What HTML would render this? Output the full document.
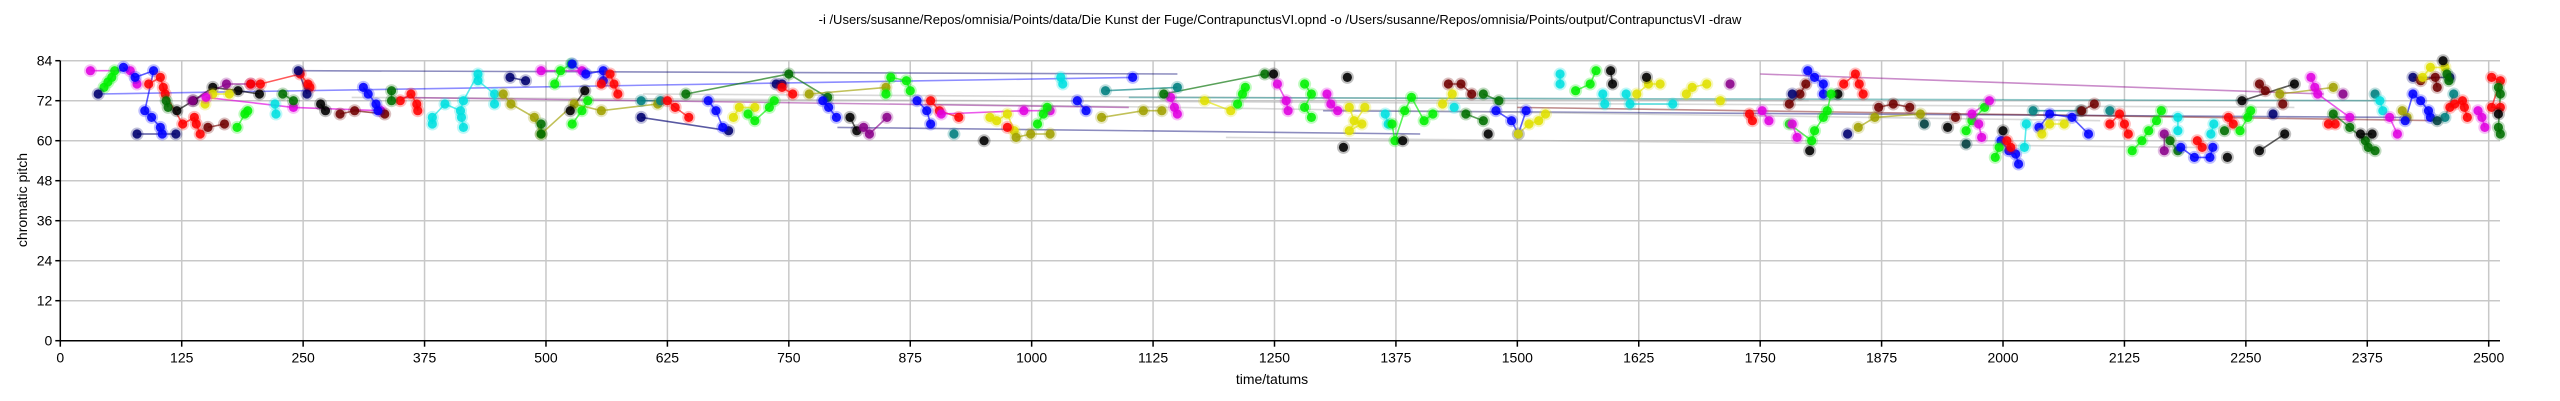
<!DOCTYPE html>
<html><head><meta charset="utf-8">
<style>
html,body{margin:0;padding:0;background:#fff;}
svg{display:block;font-family:"Liberation Sans",Arial,sans-serif;}
</style></head>
<body>
<svg id="chart" width="2560" height="401" viewBox="0 0 2560 401" xmlns="http://www.w3.org/2000/svg">
<text x="1280" y="24" text-anchor="middle" font-size="13">-i /Users/susanne/Repos/omnisia/Points/data/Die Kunst der Fuge/ContrapunctusVI.opnd -o /Users/susanne/Repos/omnisia/Points/output/ContrapunctusVI -draw</text>
<g id="grid"></g>
<g id="lines"></g>
<g id="dots"></g>
<g id="axes"></g>
<text transform="translate(27,200) rotate(-90)" text-anchor="middle" font-size="14">chromatic pitch</text>
<text x="1272" y="384" text-anchor="middle" font-size="14">time/tatums</text>
</svg>
<script>
const xTicks = [0,125,250,375,500,625,750,875,1000,1125,1250,1375,1500,1625,1750,1875,2000,2125,2250,2375,2500];
const yTicks = [0,12,24,36,48,60,72,84];
const palette = {m:"#e000e0",p:"#8a008a",g:"#00f000",d:"#006e00",n:"#000070",b:"#0000ff",r:"#ff0000",o:"#700000",k:"#000000",y:"#e0e000",v:"#a0a000",c:"#00e0e0",t:"#008080",e:"#004040",a:"#aaaaaa"};
const longLines = [
 ["b",[[39,74],[1104,79]]],["n",[[245,81],[1150,80]]],["a",[[300,73],[2300,70]]],["a",[[600,74],[1800,72]]],
 ["p",[[1750,80],[2330,74]]],["n",[[1300,69],[2410,67]]],["o",[[1500,70],[2450,66]]],["a",[[900,71],[2100,66]]],
 ["t",[[1100,73],[2390,72]]],["p",[[350,73],[1100,70]]],["n",[[800,64],[1400,62]]],["a",[[1200,61],[2200,58]]]
];
const seriesPoints = [
 ["m",[[31,81],[72,81],[79,77]]],["g",[[45,76],[49,77.6],[53,79],[56,81]]],["n",[[39,74]]],
 ["b",[[65,82],[77,79],[96,81],[87,69],[94,67],[103,64],[105,62]]],
 ["r",[[91,77],[103,79],[106,76],[108,74],[126,65],[138,67],[140,65],[144,62]]],
 ["n",[[79,62],[119,62]]],["d",[[109,72],[111,70]]],["k",[[120,69],[137,72],[157,76],[183,75],[205,74]]],
 ["o",[[152,64],[169,65]]],["y",[[149,71],[157,74],[174,74]]],["p",[[136,72],[171,77],[196,77]]],
 ["g",[[182,64],[190,68],[193,69]]],["r",[[196,77],[206,77],[247,80],[255,77],[257,76]]],
 ["c",[[221,71],[222,68]]],["n",[[245,81],[254,74]]],["m",[[150,73],[240,70],[330,69]]],["d",[[229,74],[240,72]]],
 ["k",[[268,71],[273,69]]],["o",[[288,68],[303,69],[334,68]]],["b",[[312,76],[317,74],[325,71],[327,69]]],
 ["r",[[350,72],[361,74],[367,71],[368,69]]],
 ["c",[[383,65],[383,67],[396,71],[412,69],[415,72],[430,80],[430,78],[447,74],[447,71]]],["c",[[413,67],[415,64]]],
 ["d",[[341,75],[341,72]]],["n",[[463,79],[479,78]]],["v",[[456,74],[464,71],[488,67],[495,62],[529,71],[557,69],[615,71]]],
 ["d",[[495,65],[495,62]]],["m",[[495,81],[537,81]]],["g",[[509,77],[515,81],[526,83]]],
 ["b",[[527,83],[541,80],[559,81],[559,78]]],["r",[[557,77],[566,80],[570,77],[574,74]]],
 ["g",[[527,65],[537,69],[543,72]]],["k",[[525,69],[540,75]]],["t",[[598,72],[618,72]]],
 ["r",[[625,72],[633,70],[647,67]]],["d",[[644,74],[750,80],[790,73]]],["n",[[598,67],[688,63]]],
 ["b",[[667,72],[675,69],[682,64]]],["y",[[693,67],[699,70],[715,70]]],["g",[[708,68],[715,66],[730,70],[735,72]]],
 ["n",[[737,77],[743,77]]],["r",[[743,76],[754,74]]],["v",[[771,74],[850,76]]],["b",[[785,72],[791,70],[799,67]]],
 ["g",[[850,74],[855,79],[871,78],[875,75]]],["k",[[813,67],[820,63]]],["p",[[827,64],[833,62],[851,67]]],
 ["b",[[882,72],[892,69],[896,65]]],["r",[[896,72],[905,69],[925,67]]],["t",[[920,62]]],
 ["m",[[907,68],[992,69],[1019,69]]],["y",[[957,67],[964,66],[975,68],[982,63]]],["r",[[975,64]]],["k",[[951,60]]],
 ["v",[[984,61],[999,62],[1019,62]]],["g",[[1006,65],[1012,68],[1016,70]]],["c",[[1030,79],[1032,77]]],
 ["b",[[1104,79]]],["t",[[1076,75],[1150,76]]],["b",[[1047,72],[1056,69]]],["v",[[1072,67],[1115,69],[1134,69]]],
 ["m",[[1143,73],[1147,70],[1150,68]]],["y",[[1178,72],[1205,69]]],["g",[[1212,71],[1217,74],[1220,76]]],
 ["d",[[1136,74],[1240,80]]],["k",[[1249,80]]],["m",[[1253,77],[1262,72],[1264,69]]],
 ["g",[[1281,77],[1288,74],[1281,70],[1288,67]]],["k",[[1325,79]]],["m",[[1304,74],[1308,71],[1315,69]]],
 ["y",[[1327,70],[1332,66],[1340,65],[1327,63],[1343,70]]],["k",[[1321,58]]],["c",[[1364,68],[1367,65]]],
 ["g",[[1371,65],[1374,60],[1384,69],[1391,73],[1404,66],[1413,68]]],["k",[[1382,60]]],
 ["o",[[1429,77],[1442,77],[1453,74]]],["y",[[1423,71],[1433,74]]],["c",[[1435,70]]],["d",[[1465,74],[1481,72]]],
 ["b",[[1478,69],[1494,66],[1501,62],[1509,69]]],["k",[[1470,62]]],["d",[[1447,68],[1465,66]]],
 ["y",[[1501,62],[1512,65],[1522,66],[1529,68]]],["c",[[1544,80],[1544,77]]],["g",[[1560,75],[1575,77],[1581,81]]],
 ["k",[[1596,81],[1598,77]]],["c",[[1588,74],[1590,71]]],["c",[[1612,74],[1616,71],[1660,71]]],
 ["y",[[1623,74],[1635,77],[1647,77]]],["k",[[1633,79]]],["y",[[1674,74],[1680,76],[1695,77]]],
 ["p",[[1719,77]]],["y",[[1709,72]]],["r",[[1739,68],[1742,66]]],["m",[[1752,69],[1759,66]]],
 ["o",[[1780,71],[1791,74],[1797,77]]],["n",[[1783,74]]],["b",[[1799,81],[1806,79],[1815,77],[1815,74]]],
 ["k",[[1830,74]]],["r",[[1836,77],[1848,80],[1852,77],[1856,74]]],
 ["g",[[1780,65],[1803,60],[1806,63],[1815,67],[1819,69],[1823,74]]],["m",[[1783,65],[1788,61]]],["k",[[1801,57]]],
 ["n",[[1840,62]]],["v",[[1851,64],[1868,67],[1915,68]]],["o",[[1872,70],[1887,71],[1904,70]]],["e",[[1919,65]]],
 ["k",[[1943,64]]],["o",[[1951,67]]],["g",[[1962,63],[1968,66],[1981,70]]],["m",[[1986,72],[1968,68],[1975,65],[1978,61]]],
 ["e",[[1962,59]]],["b",[[1998,60],[2006,57],[2013,56],[2016,53]]],["g",[[1992,55],[1996,58]]],["r",[[2004,60],[2008,58]]],
 ["k",[[2000,63]]],["c",[[2022,58],[2024,65]]],["t",[[2031,69],[2080,69]]],["b",[[2037,64],[2048,68],[2071,67],[2088,62]]],
 ["y",[[2040,62],[2048,65],[2063,65]]],["o",[[2081,69],[2094,71]]],["t",[[2110,69]]],
 ["r",[[2110,65],[2120,68],[2125,65],[2129,62]]],["g",[[2133,57],[2143,60],[2150,63],[2158,66],[2163,69]]],
 ["p",[[2166,57],[2166,62]]],["d",[[2172,60],[2180,57]]],["c",[[2180,67],[2180,63]]],
 ["b",[[2183,58],[2197,55],[2213,55],[2216,58]]],["r",[[2200,60],[2205,58]]],["k",[[2231,55]]],
 ["c",[[2214,62],[2217,65]]],["d",[[2228,63]]],["k",[[2264,57],[2290,62]]],["r",[[2232,67],[2237,65]]],
 ["g",[[2244,63],[2252,67],[2255,69]]],["o",[[2264,77],[2270,75]]],["v",[[2285,74],[2340,76]]],
 ["k",[[2246,72],[2300,77]]],["m",[[2317,79],[2321,76],[2324,74],[2357,67]]],["o",[[2288,71]]],["n",[[2278,68]]],
 ["r",[[2335,65],[2342,65]]],["p",[[2350,74]]],["d",[[2340,68],[2357,64],[2373,60],[2376,58],[2383,57]]],
 ["k",[[2368,62],[2380,62]]],["t",[[2383,74]]],["c",[[2388,72],[2391,69]]],["m",[[2398,67],[2406,62]]],
 ["v",[[2411,69],[2416,67]]],["b",[[2414,66],[2422,74],[2430,72],[2438,69],[2440,67]]],["n",[[2422,79],[2460,79]]],
 ["o",[[2430,78],[2445,79],[2447,76]]],["y",[[2432,79],[2440,82],[2455,82]]],["k",[[2453,84]]],
 ["d",[[2457,80],[2459,78]]],["t",[[2464,74],[2455,67]]],["e",[[2447,66]]],
 ["r",[[2460,70],[2465,71],[2473,72],[2475,70],[2478,67]]],["m",[[2489,69],[2493,67],[2496,64]]],
 ["r",[[2503,79],[2512,78],[2503,70],[2512,70]]],["d",[[2510,76],[2512,74],[2510,64],[2512,62]]],["k",[[2510,68]]]
];
const X0=60.3, XS=0.97136, Y0=340.7, YS=3.3333;
function xScale(t){return X0+t*XS;}
function yScale(p){return Y0-p*YS;}
const NS="http://www.w3.org/2000/svg";
function mk(tag,attrs,parent){const e=document.createElementNS(NS,tag);for(const k in attrs)e.setAttribute(k,attrs[k]);parent.appendChild(e);return e;}
const grid=document.getElementById('grid'),axes=document.getElementById('axes'),lines=document.getElementById('lines'),dots=document.getElementById('dots');
const xEnd=2500, yTop=yScale(84);
xTicks.forEach(function(t){
  const x=xScale(t);
  if(t>0){const gl=mk('line',{x1:x,x2:x,y1:yTop,y2:Y0,stroke:'#c8c8c8','stroke-width':1.5},grid);
  
  }
  const tk=mk('line',{x1:x,x2:x,y1:Y0,y2:Y0+6,stroke:'#000','stroke-width':1.5},axes);
  
  
  const lb=mk('text',{x:x,y:Y0+22,'text-anchor':'middle','font-size':14},axes);lb.textContent=t;
  
  
});
yTicks.forEach(function(p){
  const y=yScale(p);
  if(p>0){const gl=mk('line',{x1:X0,x2:xEnd,y1:y,y2:y,stroke:'#c8c8c8','stroke-width':1.5},grid);
  
  }
  const tk=mk('line',{x1:X0-5,x2:X0,y1:y,y2:y,stroke:'#000','stroke-width':1.5},axes);
  
  
  const lb=mk('text',{x:X0-8,y:y+5,'text-anchor':'end','font-size':14},axes);lb.textContent=p;
  
  
});
const xa=mk('line',{x1:X0,x2:xEnd,y1:Y0,y2:Y0,stroke:'#000','stroke-width':1.5},axes);


const ya=mk('line',{x1:X0,x2:X0,y1:yTop,y2:Y0,stroke:'#000','stroke-width':1.5},axes);


function drawLine(key,pts,op){
  if(pts.length<2)return;
  const d=pts.map(function(q,i){return (i?'L':'M')+xScale(q[0]).toFixed(1)+','+yScale(q[1]).toFixed(1);}).join('');
  const pl=mk('path',{d:d,fill:'none',stroke:palette[key],'stroke-width':1.6,'stroke-opacity':op},lines);
  
  
}
longLines.forEach(function(s){drawLine(s[0],s[1],0.45);});
seriesPoints.forEach(function(s){drawLine(s[0],s[1],0.65);});
seriesPoints.forEach(function(s){
  const col=palette[s[0]];
  s[1].forEach(function(q){
    const cx=xScale(q[0]),cy=yScale(q[1]);
    const h=mk('circle',{cx:cx,cy:cy,r:6.5,fill:col,'fill-opacity':0.25},dots);
    
    
    const c=mk('circle',{cx:cx,cy:cy,r:4.6,fill:col,'fill-opacity':0.88},dots);
    
    
  });
});
</script>
</body></html>
